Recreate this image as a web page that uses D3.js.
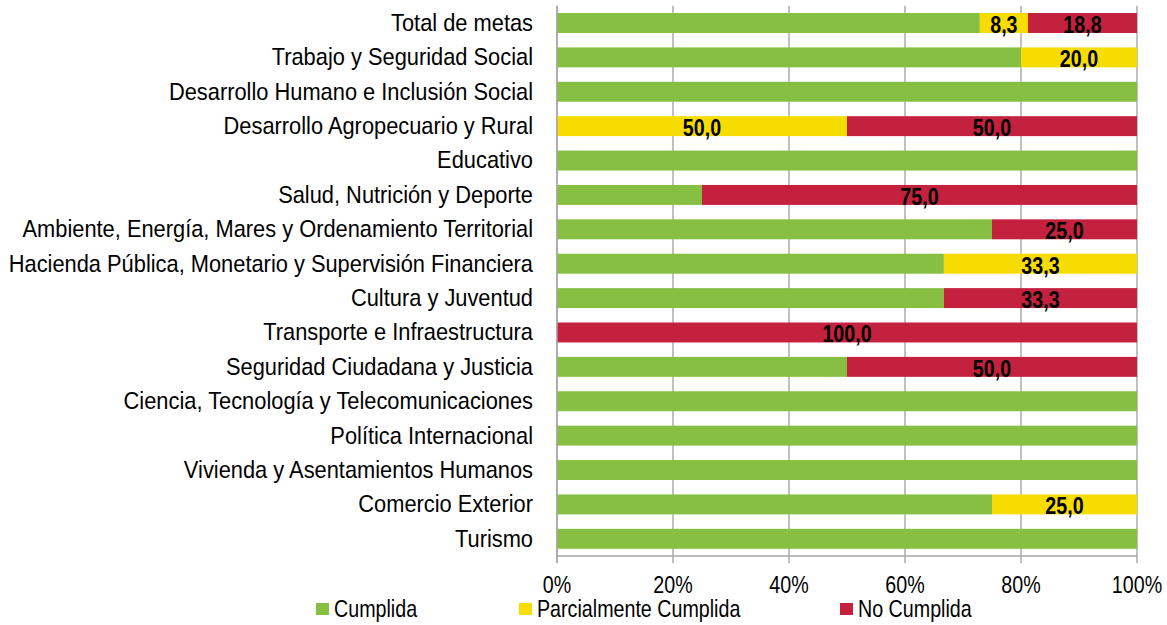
<!DOCTYPE html>
<html>
<head>
<meta charset="utf-8">
<script src="https://cdn.jsdelivr.net/npm/d3@7"></script>
<style>
  body { margin: 0; background: #fff; }
  text { font-family: "Liberation Sans", Arial, sans-serif; }
</style>
</head>
<body>
<svg id="chart"></svg>
<script>
// Categories, top to bottom
const categories = [
    'Total de metas',
    'Trabajo y Seguridad Social',
    'Desarrollo Humano e Inclusión Social',
    'Desarrollo Agropecuario y Rural',
    'Educativo',
    'Salud, Nutrición y Deporte',
    'Ambiente, Energía, Mares y Ordenamiento Territorial',
    'Hacienda Pública, Monetario y Supervisión Financiera',
    'Cultura y Juventud',
    'Transporte e Infraestructura',
    'Seguridad Ciudadana y Justicia',
    'Ciencia, Tecnología y Telecomunicaciones',
    'Política Internacional',
    'Vivienda y Asentamientos Humanos',
    'Comercio Exterior',
    'Turismo'
];

// Series values (percent of goals)
const cumplida   = [72.9, 80, 100, 0, 100, 25, 75, 66.7, 66.7, 0, 50, 100, 100, 100, 75, 100];
const parcial    = [8.3, 20, 0, 50, 0, 0, 0, 33.3, 0, 0, 0, 0, 0, 0, 25, 0];
const noCumplida = [18.8, 0, 0, 50, 0, 75, 25, 0, 33.3, 100, 50, 0, 0, 0, 0, 0];

const seriesNames = ['Cumplida', 'Parcialmente Cumplida', 'No Cumplida'];
const tickValues = [0, 20, 40, 60, 80, 100];

const width = 1167, height = 625;
const colors = ['#86bf42', '#f7dc00', '#c3213d'];
const narrow = 0.82;   // squeeze Liberation Sans to look like Arial Narrow
const plotTop = 5.8, plotBottom = 556;

let svg = d3.select('#chart')
    .attr('width', width)
    .attr('height', height);

// Scales
let x = d3.scaleLinear().domain([0, 100]).range([557, 1137]);
let y = d3.scaleBand()
    .domain(categories)
    .range([plotTop, plotBottom])
    .paddingInner(0.42)
    .paddingOuter(0.21);

// helper: narrow text placed at (px, py)
function narrowText(sel, px, py, k) {
    return sel.attr('transform', d => 'translate(' + px(d) + ',' + py(d) + ') scale(' + (k || narrow) + ',1)');
}

// Gridlines (with tick marks below the axis)
svg.append('g')
    .selectAll('line')
    .data(tickValues)
    .enter()
    .append('line')
    .attr('x1', d => x(d)).attr('x2', d => x(d))
    .attr('y1', plotTop).attr('y2', 563)
    .attr('stroke', '#a6a6a6')
    .attr('stroke-width', 1.4);

// Build table from the arrays and stack it
let table = categories.map((c, i) => ({
    cat: c,
    'Cumplida': cumplida[i],
    'Parcialmente Cumplida': parcial[i],
    'No Cumplida': noCumplida[i]
}));
let stacked = d3.stack().keys(seriesNames)(table);

// Bars
svg.append('g')
    .selectAll('g')
    .data(stacked)
    .enter()
    .append('g')
    .attr('fill', (d, i) => colors[i])
    .selectAll('rect')
    .data(d => d)
    .enter()
    .append('rect')
    .attr('x', d => x(d[0]))
    .attr('width', d => x(d[1]) - x(d[0]))
    .attr('y', d => y(d.data.cat))
    .attr('height', y.bandwidth());

// Axis lines
svg.append('line')
    .attr('x1', 557).attr('x2', 557)
    .attr('y1', plotTop).attr('y2', 563)
    .attr('stroke', '#a6a6a6')
    .attr('stroke-width', 1.4);
svg.append('line')
    .attr('x1', 557).attr('x2', 1137)
    .attr('y1', plotBottom).attr('y2', plotBottom)
    .attr('stroke', '#a6a6a6')
    .attr('stroke-width', 1.4);

// Value labels (only for the partial and not-met series)
let fmt = v => d3.format('.1f')(v).replace('.', ',');
stacked.slice(1).forEach(s => {
    svg.append('g')
        .selectAll('text')
        .data(s.filter(d => d[1] - d[0] > 0))
        .enter()
        .append('text')
        .call(narrowText, d => x((d[0] + d[1]) / 2), d => y(d.data.cat) + y.bandwidth() / 2 + 1.5)
        .attr('dy', '0.35em')
        .attr('text-anchor', 'middle')
        .style('font-size', '24px')
        .style('font-weight', 'bold')
        .attr('fill', '#000')
        .text(d => fmt(d[1] - d[0]));
});

// Category labels
svg.append('g')
    .selectAll('text')
    .data(categories)
    .enter()
    .append('text')
    .call(narrowText, d => 533, d => y(d) + y.bandwidth() / 2 - 0.5, 0.91)
    .attr('dy', '0.35em')
    .attr('text-anchor', 'end')
    .style('font-size', '24px')
    .attr('fill', '#000')
    .text(d => d);

// X axis tick labels
svg.append('g')
    .selectAll('text')
    .data(tickValues)
    .enter()
    .append('text')
    .call(narrowText, d => x(d), d => 585)
    .attr('dy', '0.35em')
    .attr('text-anchor', 'middle')
    .style('font-size', '24px')
    .attr('fill', '#000')
    .text(d => d + '%');

// Legend
let legendX = [316, 519, 840];
let legend = svg.append('g')
    .selectAll('g')
    .data(seriesNames)
    .enter()
    .append('g')
    .attr('transform', (d, i) => 'translate(' + legendX[i] + ',609)');
legend.append('rect')
    .attr('x', 0).attr('y', -6)
    .attr('width', 13).attr('height', 12)
    .attr('fill', (d, i) => colors[i]);
legend.append('text')
    .attr('transform', 'translate(18,0) scale(' + narrow + ',1)')
    .attr('dy', '0.35em')
    .style('font-size', '24px')
    .attr('fill', '#000')
    .text(d => d);
</script>
</body>
</html>
